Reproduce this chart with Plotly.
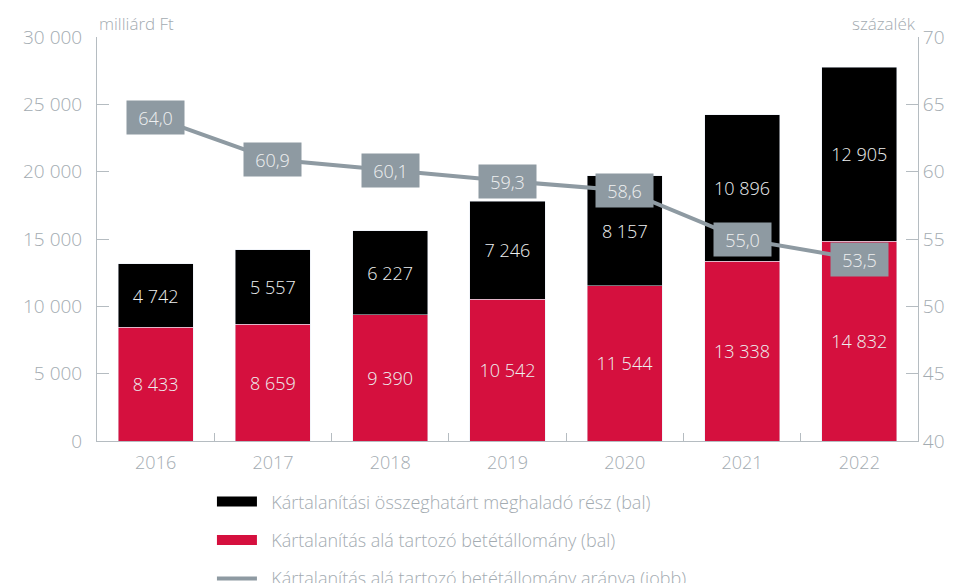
import plotly.graph_objects as go

years = ["2016", "2017", "2018", "2019", "2020", "2021", "2022"]
covered = [8433, 8659, 9390, 10542, 11544, 13338, 14832]
above = [4742, 5557, 6227, 7246, 8157, 10896, 12905]
ratio = [64.0, 60.9, 60.1, 59.3, 58.6, 55.0, 53.5]

names = [
    "Kártalanítási összeghatárt meghaladó rész (bal)",
    "Kártalanítás alá tartozó betétállomány (bal)",
    "Kártalanítás alá tartozó betétállomány aránya (jobb)",
]

grey = "#a3abb1"
line_grey = "#8e9aa2"
axis_col = "#b5bcc1"
red = "#d5103e"
label_col = "#eef0f1"
font = "Open Sans"

fig = go.Figure()

fig.add_trace(go.Bar(
    x=years, y=covered, name=names[1], marker_color=red, showlegend=False,
    texttemplate="%{y:,.0f}", textposition="inside", insidetextanchor="middle",
    textfont=dict(color=label_col, size=18, family=font, weight=300),
))
fig.add_trace(go.Bar(
    x=years, y=above, name=names[0], marker_color="#000000", showlegend=False,
    texttemplate="%{y:,.0f}", textposition="inside", insidetextanchor="middle",
    textfont=dict(color=label_col, size=18, family=font, weight=300),
))
fig.add_trace(go.Scatter(
    x=years, y=ratio, name=names[2], yaxis="y2", mode="lines",
    line=dict(color=line_grey, width=4), showlegend=False,
))

# legend entries drawn as wide swatches, each in its own group for spacing
for k, (nm, col, w) in enumerate([(names[0], "#000000", 14), (names[1], red, 14),
                                   (names[2], line_grey, 4)]):
    fig.add_trace(go.Scatter(x=[None], y=[None], mode="lines", name="\u00a0\u00a0" + nm,
                             legendgroup=f"g{k}", line=dict(color=col, width=w)))

# grey boxes with ratio values on the line (category index for x)
for i, v in enumerate(ratio):
    fig.add_annotation(
        x=i, y=v, xref="x", yref="y2", text=f"{v:.1f}".replace(".", ","),
        showarrow=False, bgcolor=line_grey, width=57, height=33, borderpad=0,
        font=dict(color=label_col, size=18, family=font, weight=300),
    )

fig.add_annotation(x=0, y=1.0, xref="paper", yref="paper", xanchor="left", yanchor="bottom",
                   text="milliárd Ft", showarrow=False,
                   font=dict(color=grey, size=17, family=font, weight=300))
fig.add_annotation(x=1.0, y=1.0, xref="paper", yref="paper", xanchor="right", yanchor="bottom",
                   text="százalék", showarrow=False,
                   font=dict(color=grey, size=17, family=font, weight=300))

fig.update_layout(
    width=946, height=575,
    barmode="stack", bargap=0.36,
    separators=", ",
    plot_bgcolor="white", paper_bgcolor="white",
    margin=dict(l=89, r=36, t=29, b=142, autoexpand=False),
    font=dict(family=font, color=grey, size=18, weight=300),
    xaxis=dict(type="category", range=[-0.5, 6.5], showline=True, linecolor=axis_col,
               linewidth=1, ticks="inside", tickson="boundaries", ticklen=8,
               tickcolor=axis_col, tickfont=dict(size=18, weight=300), ticklabelstandoff=5),
    yaxis=dict(range=[0, 30000], dtick=5000, tickformat=",d", showgrid=False,
               showline=True, linecolor=axis_col, ticks="inside", ticklen=12,
               tickcolor=axis_col, tickfont=dict(size=19, weight=300), zeroline=False,
               ticklabelstandoff=10),
    yaxis2=dict(range=[40, 70], dtick=5, overlaying="y", side="right", showgrid=False,
                showline=True, linecolor=axis_col, ticks="inside", ticklen=12,
                tickcolor=axis_col, tickfont=dict(size=19, weight=300), zeroline=False),
    legend=dict(orientation="v", x=0.14, y=-0.105, xanchor="left", yanchor="top",
                traceorder="grouped", font=dict(size=18, color=grey, weight=300),
                tracegroupgap=12, itemwidth=40),
)

fig.write_html("out.html")
